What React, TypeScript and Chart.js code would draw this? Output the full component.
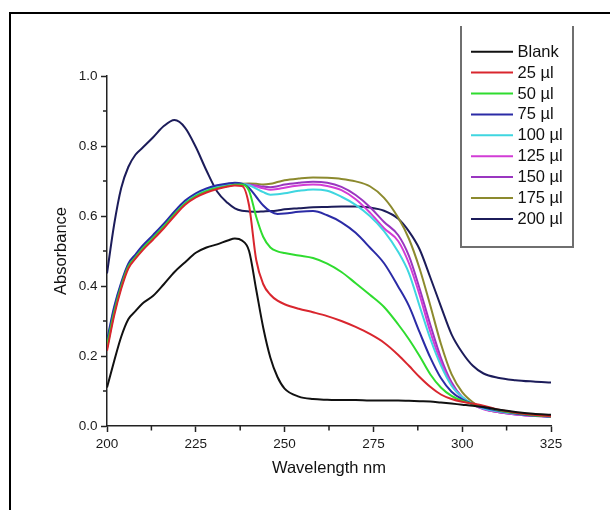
import React, { useEffect, useRef } from "react";
import { Chart, registerables } from "chart.js";

Chart.register(...registerables);

const wavelengths = [200, 202, 204, 206, 208, 210, 213, 216, 219, 222, 225, 228, 231, 234, 236, 238, 240, 242, 244, 246, 248, 250, 254, 258, 262, 266, 270, 274, 278, 282, 285, 288, 291, 294, 297, 300, 303, 306, 310, 315, 320, 325];

const blank = [0.11, 0.185, 0.255, 0.305, 0.328, 0.35, 0.372, 0.405, 0.44, 0.468, 0.495, 0.51, 0.519, 0.53, 0.536, 0.53, 0.5, 0.39, 0.28, 0.195, 0.14, 0.107, 0.084, 0.077, 0.075, 0.074, 0.074, 0.073, 0.073, 0.073, 0.072, 0.071, 0.07, 0.067, 0.064, 0.061, 0.058, 0.054, 0.047, 0.04, 0.035, 0.032];
const ul25 = [0.215, 0.315, 0.392, 0.45, 0.478, 0.502, 0.533, 0.565, 0.6, 0.632, 0.653, 0.667, 0.677, 0.684, 0.687, 0.686, 0.63, 0.475, 0.405, 0.375, 0.358, 0.348, 0.335, 0.325, 0.314, 0.3, 0.283, 0.263, 0.238, 0.203, 0.172, 0.14, 0.112, 0.09, 0.077, 0.069, 0.064, 0.058, 0.047, 0.038, 0.032, 0.028];
const ul50 = [0.23, 0.325, 0.4, 0.456, 0.482, 0.507, 0.538, 0.57, 0.605, 0.636, 0.657, 0.671, 0.68, 0.686, 0.689, 0.69, 0.672, 0.598, 0.54, 0.51, 0.499, 0.494, 0.487, 0.48, 0.464, 0.44, 0.408, 0.375, 0.34, 0.29, 0.248, 0.2, 0.148, 0.11, 0.086, 0.072, 0.063, 0.056, 0.046, 0.037, 0.031, 0.027];
const ul75 = [0.245, 0.34, 0.41, 0.464, 0.49, 0.515, 0.546, 0.578, 0.613, 0.644, 0.665, 0.679, 0.688, 0.693, 0.695, 0.692, 0.68, 0.655, 0.63, 0.613, 0.606, 0.607, 0.612, 0.614, 0.602, 0.582, 0.552, 0.51, 0.465, 0.398, 0.343, 0.268, 0.196, 0.137, 0.098, 0.076, 0.063, 0.053, 0.044, 0.036, 0.03, 0.027];
const ul100 = [0.24, 0.335, 0.406, 0.46, 0.487, 0.512, 0.543, 0.575, 0.61, 0.641, 0.662, 0.676, 0.685, 0.691, 0.693, 0.692, 0.688, 0.678, 0.668, 0.661, 0.662, 0.665, 0.672, 0.676, 0.672, 0.655, 0.632, 0.6, 0.557, 0.497, 0.437, 0.343, 0.25, 0.173, 0.115, 0.083, 0.063, 0.05, 0.042, 0.035, 0.03, 0.027];
const ul125 = [0.228, 0.325, 0.4, 0.456, 0.483, 0.508, 0.539, 0.571, 0.607, 0.638, 0.659, 0.672, 0.681, 0.687, 0.69, 0.69, 0.688, 0.684, 0.679, 0.675, 0.677, 0.681, 0.687, 0.69, 0.686, 0.674, 0.648, 0.61, 0.565, 0.528, 0.465, 0.375, 0.27, 0.183, 0.118, 0.08, 0.061, 0.048, 0.04, 0.033, 0.029, 0.026];
const ul150 = [0.225, 0.325, 0.4, 0.456, 0.483, 0.508, 0.539, 0.571, 0.607, 0.638, 0.659, 0.672, 0.681, 0.687, 0.69, 0.69, 0.69, 0.687, 0.684, 0.682, 0.685, 0.69, 0.695, 0.698, 0.695, 0.683, 0.66, 0.626, 0.583, 0.545, 0.486, 0.393, 0.29, 0.195, 0.125, 0.083, 0.062, 0.049, 0.04, 0.033, 0.029, 0.026];
const ul175 = [0.222, 0.322, 0.398, 0.455, 0.482, 0.507, 0.538, 0.57, 0.606, 0.637, 0.658, 0.671, 0.68, 0.686, 0.69, 0.692, 0.693, 0.692, 0.69, 0.692, 0.697, 0.702, 0.707, 0.71, 0.709, 0.706, 0.699, 0.685, 0.652, 0.595, 0.535, 0.45, 0.345, 0.235, 0.148, 0.097, 0.068, 0.05, 0.04, 0.034, 0.03, 0.028];
const ul200 = [0.436, 0.575, 0.68, 0.74, 0.775, 0.795, 0.825, 0.857, 0.874, 0.852, 0.797, 0.73, 0.67, 0.637, 0.622, 0.615, 0.613, 0.612, 0.613, 0.614, 0.616, 0.619, 0.622, 0.625, 0.626, 0.627, 0.627, 0.624, 0.615, 0.592, 0.556, 0.505, 0.425, 0.342, 0.262, 0.21, 0.172, 0.15, 0.138, 0.131, 0.127, 0.124];

const seriesLabels = ["Blank", "25 µl", "50 µl", "75 µl", "100 µl", "125 µl", "150 µl", "175 µl", "200 µl"];
const seriesValues = [blank, ul25, ul50, ul75, ul100, ul125, ul150, ul175, ul200];
const seriesColors = ["#111111", "#d9262e", "#2fdc2f", "#2b2ba6", "#3fd6e0", "#d23cd6", "#9a36c0", "#8c8a2e", "#1c1c5a"];

const xTicks = [200, 225, 250, 275, 300, 325];
const yTicks = [0.0, 0.2, 0.4, 0.6, 0.8, 1.0];
const xMinorTicks = [212.5, 237.5, 262.5, 287.5, 312.5];
const yMinorTicks = [0.1, 0.3, 0.5, 0.7, 0.9];

const FONT = "'Liberation Sans', Arial, Helvetica, sans-serif";

const minorTickPlugin = {
  id: "minorTicks",
  afterDraw(chart: any) {
    const ctx = chart.ctx;
    const xs = chart.scales.x;
    const ys = chart.scales.y;
    ctx.save();
    ctx.strokeStyle = "#222";
    ctx.lineWidth = 1.5;
    ctx.beginPath();
    for (const v of xMinorTicks) {
      const px = xs.getPixelForValue(v);
      ctx.moveTo(px, ys.bottom);
      ctx.lineTo(px, ys.bottom + 4.5);
    }
    for (const v of yMinorTicks) {
      const py = ys.getPixelForValue(v);
      ctx.moveTo(xs.left - 4, py);
      ctx.lineTo(xs.left, py);
    }
    ctx.stroke();
    ctx.restore();
  },
};

const legendBoxPlugin = {
  id: "legendBox",
  afterDraw(chart: any) {
    const ctx = chart.ctx;
    const left = 461;
    const right = 573;
    const top = 26;
    const bottom = 247;
    ctx.save();
    ctx.strokeStyle = "#6f6f6f";
    ctx.lineWidth = 2;
    ctx.beginPath();
    ctx.moveTo(left, top);
    ctx.lineTo(left, bottom);
    ctx.lineTo(right, bottom);
    ctx.lineTo(right, top);
    ctx.stroke();
    ctx.font = `16.5px ${FONT}`;
    ctx.textBaseline = "middle";
    ctx.textAlign = "left";
    chart.data.datasets.forEach((ds: any, i: number) => {
      const y = 51.7 + i * 20.9;
      ctx.strokeStyle = ds.borderColor;
      ctx.lineWidth = 2;
      ctx.beginPath();
      ctx.moveTo(471, y);
      ctx.lineTo(513, y);
      ctx.stroke();
      ctx.fillStyle = "#111";
      ctx.fillText(ds.label, 517.5, y + 0.5);
    });
    ctx.restore();
  },
};

export default function App() {
  const canvasRef = useRef<HTMLCanvasElement | null>(null);

  useEffect(() => {
    if (!canvasRef.current) return;
    const datasets = seriesValues.map((vals, i) => ({
      label: seriesLabels[i],
      data: wavelengths.map((w, j) => ({ x: w, y: vals[j] })),
      borderColor: seriesColors[i],
      backgroundColor: seriesColors[i],
      borderWidth: 2,
      pointRadius: 0,
      fill: false,
      cubicInterpolationMode: "monotone" as const,
    }));
    const chart = new Chart(canvasRef.current, {
      type: "line",
      data: { datasets },
      plugins: [minorTickPlugin, legendBoxPlugin],
      options: {
        animation: false,
        responsive: false,
        maintainAspectRatio: false,
        devicePixelRatio: 1,
        layout: { padding: { left: 45, top: 76, right: 59, bottom: 28 } },
        plugins: {
          legend: { display: false },
          tooltip: { enabled: false },
        },
        scales: {
          x: {
            type: "linear",
            min: 200,
            max: 325,
            afterFit: (s: any) => {
              s.height = 56;
            },
            afterBuildTicks: (s: any) => {
              s.ticks = xTicks.map((v) => ({ value: v }));
            },
            ticks: {
              padding: 4,
              color: "#1a1a1a",
              font: { family: FONT, size: 13.5 },
              callback: (v: any) => String(v),
              maxRotation: 0,
            },
            grid: {
              drawOnChartArea: false,
              drawTicks: true,
              tickLength: 6,
              tickWidth: 1.5,
              tickColor: "#222",
            },
            border: { display: true, color: "#222", width: 1.5 },
            title: {
              display: true,
              text: "Wavelength nm",
              color: "#111",
              font: { family: FONT, size: 16.5 },
              padding: { top: 0, bottom: 4 },
            },
          },
          y: {
            type: "linear",
            min: 0,
            max: 1.0,
            afterFit: (s: any) => {
              s.width = 62;
            },
            afterBuildTicks: (s: any) => {
              s.ticks = yTicks.map((v) => ({ value: v }));
            },
            ticks: {
              padding: 3.5,
              color: "#1a1a1a",
              font: { family: FONT, size: 13.5 },
              callback: (v: any) => Number(v).toFixed(1),
            },
            grid: {
              drawOnChartArea: false,
              drawTicks: true,
              tickLength: 6,
              tickWidth: 1.5,
              tickColor: "#222",
            },
            border: { display: true, color: "#222", width: 1.5 },
            title: {
              display: true,
              text: "Absorbance",
              color: "#111",
              font: { family: FONT, size: 16.5 },
              padding: { top: 7, bottom: 0 },
            },
          },
        },
      },
    });
    return () => chart.destroy();
  }, []);

  return (
    <div
      style={{
        position: "fixed",
        left: 0,
        top: 0,
        width: 610,
        height: 510,
        overflow: "hidden",
        background: "#fff",
      }}
    >
      <canvas ref={canvasRef} width={610} height={510} style={{ position: "absolute", left: 0, top: 0, width: 610, height: 510 }} />
      <div
        style={{
          position: "absolute",
          left: 9,
          top: 11.5,
          width: 700,
          height: 600,
          borderLeft: "2px solid #000",
          borderTop: "2px solid #000",
          pointerEvents: "none",
        }}
      />
    </div>
  );
}
